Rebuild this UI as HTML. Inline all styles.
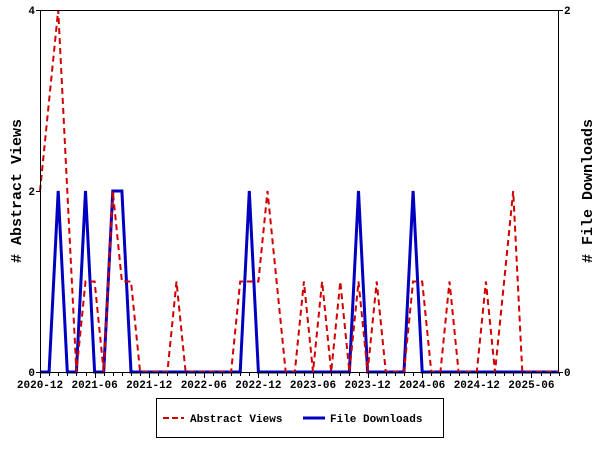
<!DOCTYPE html>
<html><head><meta charset="utf-8"><style>
html,body{margin:0;padding:0;background:#fff;}
svg{display:block;}
text{font-family:"Liberation Mono",monospace;font-weight:bold;fill:#000;}
</style></head><body>
<svg id="s" width="600" height="450" xmlns="http://www.w3.org/2000/svg">
<rect width="600" height="450" fill="#fff"/>
<g id="ticks" stroke="#000" stroke-width="1"></g>
<polyline id="dl" fill="none" stroke="#0000c0" stroke-width="3"/>
<polyline id="vw" fill="none" stroke="#d00000" stroke-width="2" stroke-dasharray="6,4"/>
<rect x="40.5" y="10.5" width="518" height="362" fill="none" stroke="#000" stroke-width="1"/>
<g font-size="11">
<text x="35" y="376" text-anchor="end">0</text>
<text x="35" y="195" text-anchor="end">2</text>
<text x="35" y="14" text-anchor="end">4</text>
<text x="564" y="376">0</text>
<text x="564" y="14">2</text>
</g>
<g id="xl" font-size="11" text-anchor="middle"></g>
<text font-size="15" text-anchor="middle" transform="translate(21,191) rotate(-90)"># Abstract Views</text>
<text font-size="15" text-anchor="middle" transform="translate(592,191) rotate(-90)"># File Downloads</text>
<rect x="156.5" y="398.5" width="287" height="39" fill="#fff" stroke="#000" stroke-width="1"/>
<line x1="163" y1="418" x2="184" y2="418" stroke="#d00000" stroke-width="2" stroke-dasharray="6,3"/>
<text x="190" y="422" font-size="11">Abstract Views</text>
<line x1="303" y1="418" x2="325" y2="418" stroke="#0000c0" stroke-width="3"/>
<text x="330" y="422" font-size="11">File Downloads</text>
</svg>
<script>
var V=[2,3,4,2,0,1,1,0,2,1,1,0,0,0,0,1,0,0,0,0,0,0,1,1,1,2,1,0,0,1,0,1,0,1,0,1,0,1,0,0,0,1,1,0,0,1,0,0,0,1,0,1,2,0,0,0,0,0];
var D=[];for(var i=0;i<58;i++)D.push([2,5,8,9,23,35,41].indexOf(i)>=0?1:0);
function X(m){return 40+9.1*m;}
var pv=[],pd=[];
for(var i=0;i<58;i++){pv.push(X(i).toFixed(1)+","+(372-90.5*V[i]).toFixed(1));pd.push(X(i).toFixed(1)+","+(372-181*D[i]).toFixed(1));}
pd.push("559,372");pv.push("559,372");
document.getElementById("vw").setAttribute("points",pv.join(" "));
document.getElementById("dl").setAttribute("points",pd.join(" "));
var t="",lbl=["2020-12","2021-06","2021-12","2022-06","2022-12","2023-06","2023-12","2024-06","2024-12","2025-06"],l="";
for(var m=0;m<=57;m++){var x=Math.round(X(m))+0.5;t+='<line x1="'+x+'" y1="372" x2="'+x+'" y2="'+(m%6==0?378:376)+'"/>';
if(m%6==0){l+='<text x="'+X(m)+'" y="388">'+lbl[m/6]+'</text>';}}
t+='<line x1="36" y1="191.5" x2="40" y2="191.5"/><line x1="36" y1="10.5" x2="40" y2="10.5"/><line x1="36" y1="372.5" x2="40" y2="372.5"/>';
t+='<line x1="559" y1="10.5" x2="563" y2="10.5"/><line x1="559" y1="372.5" x2="563" y2="372.5"/>';
document.getElementById("ticks").innerHTML=t;
document.getElementById("xl").innerHTML=l;
</script>
</body></html>
